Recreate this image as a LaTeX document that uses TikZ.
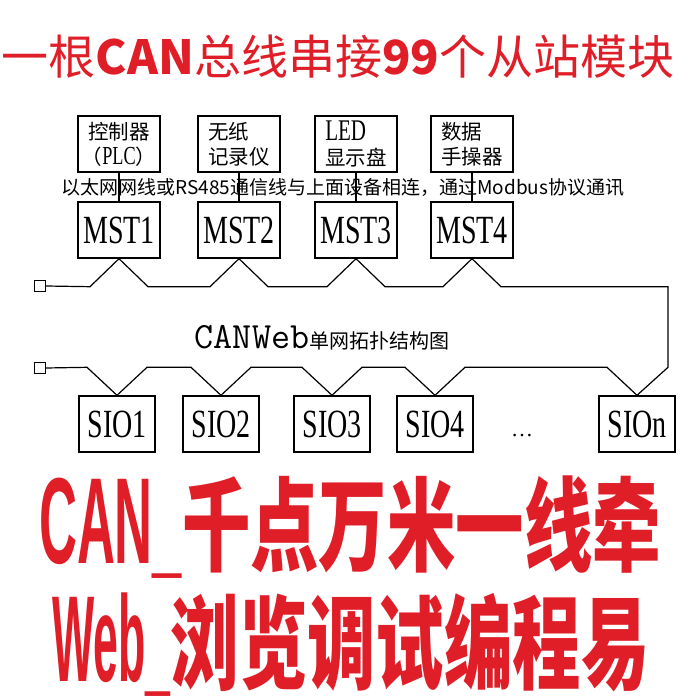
\documentclass[tikz,border=0pt]{standalone}
\usepackage{fontspec}
\usepackage{graphicx}
\setmainfont{Liberation Serif}
\newfontfamily\cjk{Noto Sans CJK SC}
\newfontfamily\narrowserif[FakeStretch=0.7]{Liberation Serif}
\newfontfamily\heavysans[FakeStretch=0.64]{Liberation Sans}
\usetikzlibrary{calc, positioning}
\definecolor{cRed}{HTML}{E01E28}

\begin{document}
\begin{tikzpicture}[x=1pt, y=-1pt, line width=1.2pt,
      title/.style={inner sep=0pt, text=cRed, font=\cjk\fontsize{47}{47}\selectfont},
      slogan/.style={inner sep=0pt, text=cRed, font=\cjk\bfseries\fontsize{60}{60}\selectfont},
      devbox/.style={draw, line width=1.4pt, minimum width=82pt, minimum height=56pt,
                     inner sep=0pt, align=left, font=\cjk\fontsize{20.5}{25}\selectfont},
      mstbox/.style={draw, line width=1.4pt, minimum width=82pt, minimum height=56pt,
                     inner sep=0pt, font=\narrowserif\fontsize{40}{40}\selectfont},
      siobox/.style={mstbox, minimum width=76pt},
      term/.style={draw, line width=1pt, minimum size=11pt, inner sep=0pt},
      note/.style={inner sep=0pt, font=\cjk\fontsize{19}{20}\selectfont}]
    \fill[white] (0,0) rectangle (700,700);
    \useasboundingbox (0,0) rectangle (700,700);
    \node[title] (title) at (338,57) {一根{\bfseries CAN}总线串接{\bfseries 99}个从站模块};
    % field devices
    \node[devbox, align=center] (dev1) at (119,144)
       {控制器\\（{\narrowserif\fontsize{26}{25}\selectfont PLC}）};
    \node[devbox] (dev2) at (239,144) {无纸\\记录仪};
    \node[devbox] (dev3) at (356,144) {{\narrowserif\fontsize{30}{25}\selectfont LED}\\显示盘};
    \node[devbox] (dev4) at (472,144) {数据\\手操器};
    % masters
    \node[mstbox] (mst1) at (119,230) {MST1};
    \node[mstbox] (mst2) at (239,230) {MST2};
    \node[mstbox] (mst3) at (356,230) {MST3};
    \node[mstbox] (mst4) at (472,230) {MST4};
    \draw (dev1) -- (mst1);
    \draw (dev2) -- (mst2);
    \draw (dev3) -- (mst3);
    \draw (dev4) -- (mst4);
    \node[note] (note) at (343,188) {以太网网线或RS485通信线与上面设备相连，通过Modbus协议通讯};
    % slaves
    \node[siobox] (sio1) at (117,424) {SIO1};
    \node[siobox] (sio2) at (221,424) {SIO2};
    \node[siobox] (sio3) at (332,424) {SIO3};
    \node[siobox] (sio4) at (435,424) {SIO4};
    \node[siobox] (sion) at (637,424) {SIOn};
    \node (more) at (522,436) {\fontsize{22}{22}\selectfont\dots};
    % bus
    \node[term] (term1) at (40,286) {};
    \node[term] (term2) at (40,368) {};
    \draw (term1.east) -- ($(mst1.south)+(-29,28)$) -- (mst1.south) -- ($(mst1.south)+(29,28)$)
       -- ($(mst2.south)+(-29,28)$) -- (mst2.south) -- ($(mst2.south)+(29,28)$)
       -- ($(mst3.south)+(-29,28)$) -- (mst3.south) -- ($(mst3.south)+(29,28)$)
       -- ($(mst4.south)+(-29,28)$) -- (mst4.south) -- ($(mst4.south)+(29,28)$)
       -| ($(sion.north)+(31,-28)$) -- (sion.north);
    \draw (term2.east) -- ($(sio1.north)+(-30,-28)$) -- (sio1.north) -- ($(sio1.north)+(30,-28)$)
       -- ($(sio2.north)+(-30,-28)$) -- (sio2.north) -- ($(sio2.north)+(30,-28)$)
       -- ($(sio3.north)+(-30,-28)$) -- (sio3.north) -- ($(sio3.north)+(30,-28)$)
       -- ($(sio4.north)+(-30,-28)$) -- (sio4.north) -- ($(sio4.north)+(30,-28)$)
       -- ($(sion.north)+(-30,-28)$) -- (sion.north);
    \node[inner sep=0pt, font=\cjk\fontsize{20}{20}\selectfont] (net) at (322,338)
       {{\ttfamily\fontsize{37}{37}\selectfont CANWeb}单网拓扑结构图};
    % slogans
    \node[slogan] (slogan1) at (350,525)
       {\scalebox{1.14}[1.7]{{\heavysans\bfseries\fontsize{72}{72}\selectfont\raisebox{0pt}[\height][0pt]{CAN\_}}千点万米一线牵}};
    \node[slogan] (slogan2) at (351,642)
       {\scalebox{1.14}[1.7]{{\heavysans\bfseries\fontsize{72}{72}\selectfont\raisebox{0pt}[\height][0pt]{\scalebox{0.85}[1]{Web\_}}}浏览调试编程易}};
  \end{tikzpicture}
\end{document}
